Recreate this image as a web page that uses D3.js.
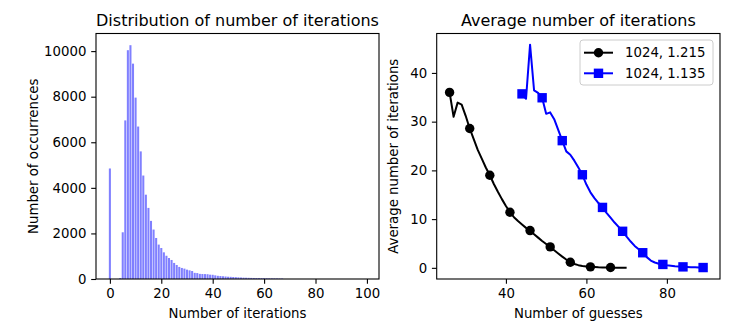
<!DOCTYPE html>
<html><head><meta charset="utf-8">
<script src="https://cdn.jsdelivr.net/npm/d3@7"></script>
<style>
body{margin:0;background:#fff}
svg{display:block}
text{font-family:"DejaVu Sans",sans-serif;fill:#000}
</style>
</head><body>
<svg id="c" width="748" height="328"></svg>
<script>
// ---- Left panel: histogram data ----
const histX = [0,1,2,3,4,5,6,7,8,9,10,11,12,13,14,15,16,17,18,19,20,21,22,23,24,25,26,27,28,29,30,31,32,33,34,35,36,37,38,39,40,41,42,43,44,45,46,47,48,49,50,51,52,53,54,55,56,57,58,59,60,61,62,63,64,65,66,67];
const histCounts = [4850,0,0,0,40,2050,6960,10040,10260,9450,7960,6690,5600,4540,3700,3120,2550,2170,1800,1510,1360,1170,1020,920,835,705,615,530,485,455,410,380,350,270,260,225,220,215,210,190,185,160,140,130,120,110,100,95,88,80,72,66,60,56,52,48,45,42,40,37,35,32,30,28,26,24,22,20];
const histXTicks = [0,20,40,60,80,100];
const histYTicks = [0,2000,4000,6000,8000,10000];
const histXDomain = [-5.4,104.7];

// ---- Right panel: line data ----
const seriesA_x = [26,27,28,29,30,31,32,33,34,35,36,37,38,39,40,41,42,43,44,45,46,47,48,49,50,51,52,53,54,55,56,57,58,59,60,61,62,63,64,65,66,67,68,69,70];
const seriesA_y = [36.0,31.0,33.9,33.5,31.2,28.6,26.4,24.2,22.4,20.6,19.0,17.2,15.6,14.1,12.7,11.4,10.4,9.6,8.9,8.2,7.65,6.9,6.2,5.5,4.9,4.3,3.6,2.95,2.3,1.7,1.15,0.8,0.55,0.38,0.27,0.2,0.15,0.11,0.09,0.07,0.06,0.04,0.03,0.02,0.01];
const seriesB_x = [44,45,46,47,48,49,50,51,52,53,54,55,56,57,58,59,60,61,62,63,64,65,66,67,68,69,70,71,72,73,74,75,76,77,78,79,80,81,82,83,84,85,86,87,88,89,90];
const seriesB_y = [35.7,34.7,45.8,36.4,35.9,34.9,31.6,31.9,30.5,28.3,26.1,23.9,23.2,22.0,20.6,19.1,17.1,15.5,14.3,13.3,12.4,11.3,10.3,9.3,8.4,7.5,6.4,5.4,4.5,3.8,3.1,2.2,1.5,1.1,0.85,0.7,0.55,0.45,0.35,0.28,0.2,0.16,0.12,0.1,0.08,0.06,0.05];
const seriesNames = ["1024, 1.215","1024, 1.135"];
const lineXTicks = [40,60,80];
const lineYTicks = [0,10,20,30,40];

const svg = d3.select("#c");
const FS = 13.3, TFS = 16;
const TL = 4.8, TP = 4.8;

function frame(g, x0, x1, y0, y1){
  g.append("rect").attr("x",x0).attr("y",y0).attr("width",x1-x0).attr("height",y1-y0)
   .attr("fill","none").attr("stroke","#000").attr("stroke-width",1.1);
}
function styleAxis(sel){
  sel.select(".domain").remove();
  sel.selectAll(".tick line").attr("stroke","#000").attr("stroke-width",1.1);
  sel.selectAll(".tick text").style("font-size",FS+"px").attr("fill","#000").style("font-family","DejaVu Sans");
}

// ---------- Left panel ----------
{
  const L=96, R=379, T=33.5, B=279;
  const x = d3.scaleLinear().domain(histXDomain).range([L,R]);
  const y = d3.scaleLinear().domain([0, d3.max(histCounts)*1.05]).range([B,T]);
  const g = svg.append("g");
  const bw = x(0.8)-x(0);
  g.selectAll("rect.bar").data(histX).join("rect").attr("class","bar")
    .attr("x",d=>x(d-0.4)).attr("width",bw)
    .attr("y",(d,i)=>y(histCounts[i])).attr("height",(d,i)=>B-y(histCounts[i]))
    .attr("fill","#8080ff");
  const ax = g.append("g").attr("transform",`translate(0,${B})`)
    .call(d3.axisBottom(x).tickValues(histXTicks).tickFormat(d3.format("d")).tickSize(TL).tickPadding(TP));
  styleAxis(ax);
  const ay = g.append("g").attr("transform",`translate(${L},0)`)
    .call(d3.axisLeft(y).tickValues(histYTicks).tickFormat(d3.format("d")).tickSize(TL).tickPadding(TP));
  styleAxis(ay);
  frame(g,L,R,T,B);
  g.append("text").attr("x",(L+R)/2).attr("y",26).attr("text-anchor","middle").style("font-size",TFS+"px").text("Distribution of number of iterations");
  g.append("text").attr("x",(L+R)/2).attr("y",318).attr("text-anchor","middle").style("font-size",FS+"px").text("Number of iterations");
  g.append("text").attr("transform",`translate(38,${(T+B)/2}) rotate(-90)`).attr("text-anchor","middle").style("font-size",FS+"px").text("Number of occurrences");
}

// ---------- Right panel ----------
{
  const L=436.7, R=720, T=33.5, B=279;
  const allX = seriesA_x.concat(seriesB_x), allY = seriesA_y.concat(seriesB_y);
  const xmin=d3.min(allX), xmax=d3.max(allX), ymax=d3.max(allY);
  const mx=(xmax-xmin)*0.05, my=(ymax-0)*0.05;
  const x = d3.scaleLinear().domain([xmin-mx,xmax+mx]).range([L,R]);
  const y = d3.scaleLinear().domain([0-my,ymax+my]).range([B,T]);
  const g = svg.append("g");
  const ax = g.append("g").attr("transform",`translate(0,${B})`)
    .call(d3.axisBottom(x).tickValues(lineXTicks).tickFormat(d3.format("d")).tickSize(TL).tickPadding(TP));
  styleAxis(ax);
  const ay = g.append("g").attr("transform",`translate(${L},0)`)
    .call(d3.axisLeft(y).tickValues(lineYTicks).tickFormat(d3.format("d")).tickSize(TL).tickPadding(TP));
  styleAxis(ay);
  const line = d3.line().x(d=>x(d[0])).y(d=>y(d[1]));
  const A = seriesA_x.map((v,i)=>[v,seriesA_y[i]]);
  const Bs = seriesB_x.map((v,i)=>[v,seriesB_y[i]]);
  const colA="#000000", colB="#0000ff";
  g.append("path").datum(A).attr("d",line).attr("fill","none").attr("stroke",colA).attr("stroke-width",2).attr("stroke-linejoin","round");
  g.append("path").datum(Bs).attr("d",line).attr("fill","none").attr("stroke",colB).attr("stroke-width",2).attr("stroke-linejoin","round");
  const r=4.7, s=9.4;
  g.selectAll("circle.mA").data(A.filter((d,i)=>i%5===0)).join("circle").attr("class","mA")
    .attr("cx",d=>x(d[0])).attr("cy",d=>y(d[1])).attr("r",r).attr("fill",colA);
  g.selectAll("rect.mB").data(Bs.filter((d,i)=>i%5===0)).join("rect").attr("class","mB")
    .attr("x",d=>x(d[0])-s/2).attr("y",d=>y(d[1])-s/2).attr("width",s).attr("height",s).attr("fill",colB);
  frame(g,L,R,T,B);
  // legend
  const lg = g.append("g");
  lg.append("rect").attr("x",580).attr("y",40).attr("width",133).attr("height",45).attr("rx",3)
    .attr("fill","#fff").attr("fill-opacity",0.8).attr("stroke","#ccc").attr("stroke-width",1);
  const rows=[52.7,73.3];
  [colA,colB].forEach((c,i)=>{
    lg.append("line").attr("x1",584).attr("x2",613).attr("y1",rows[i]).attr("y2",rows[i]).attr("stroke",c).attr("stroke-width",2);
    if(i===0) lg.append("circle").attr("cx",598.5).attr("cy",rows[i]).attr("r",r).attr("fill",c);
    else lg.append("rect").attr("x",598.5-s/2).attr("y",rows[i]-s/2).attr("width",s).attr("height",s).attr("fill",c);
    lg.append("text").attr("x",625).attr("y",rows[i]).attr("dy","0.36em").style("font-size",FS+"px").text(seriesNames[i]);
  });
  g.append("text").attr("x",(L+R)/2).attr("y",26).attr("text-anchor","middle").style("font-size",TFS+"px").text("Average number of iterations");
  g.append("text").attr("x",(L+R)/2).attr("y",318).attr("text-anchor","middle").style("font-size",FS+"px").text("Number of guesses");
  g.append("text").attr("transform",`translate(398,${(T+B)/2}) rotate(-90)`).attr("text-anchor","middle").style("font-size",FS+"px").text("Average number of iterations");
}
</script>
</body></html>
